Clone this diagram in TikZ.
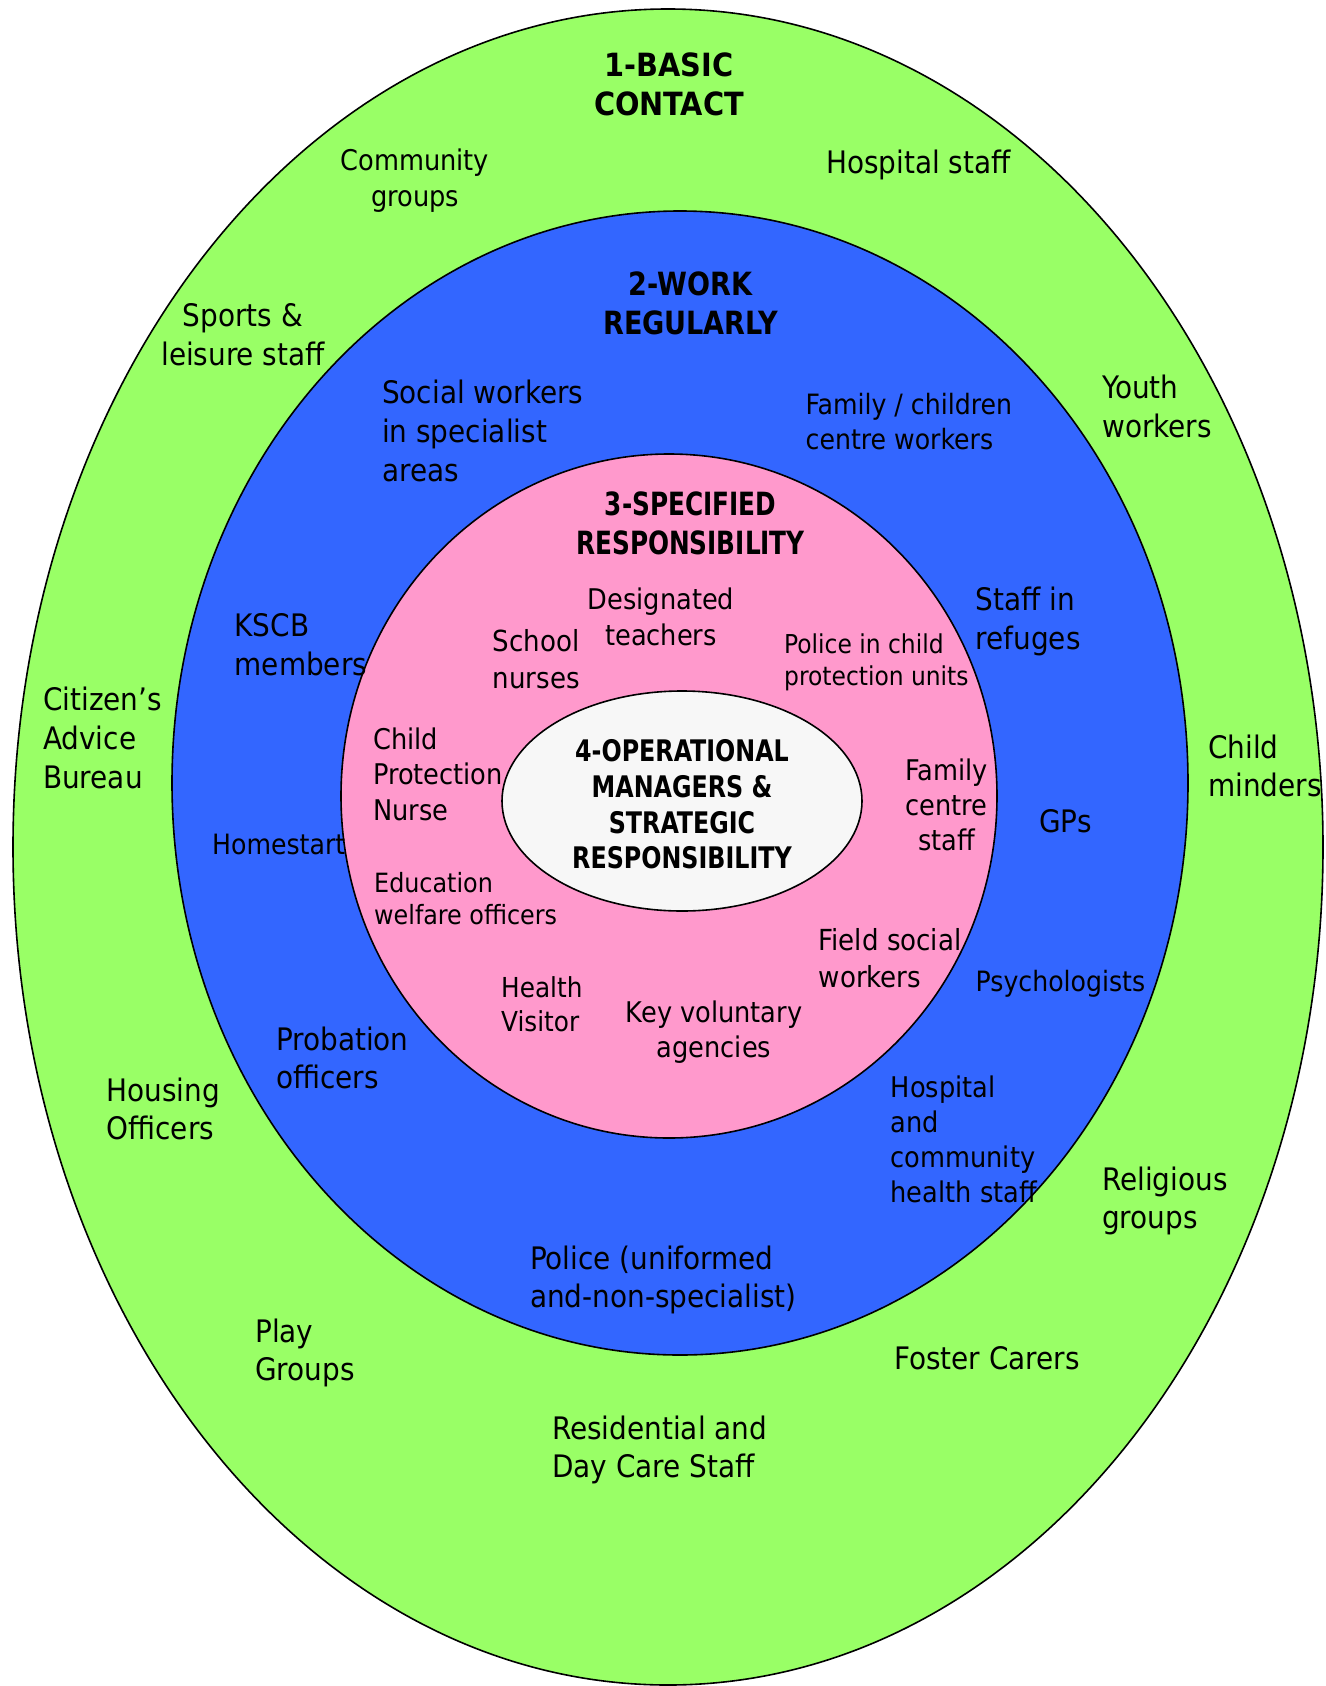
\documentclass[tikz,border=0pt]{standalone}
\usepackage{fontspec}
\usepackage{graphicx}
\setmainfont{DejaVu Sans Condensed}
\definecolor{cgreen}{HTML}{99FF66}
\definecolor{cblue}{HTML}{3366FF}
\definecolor{cpink}{HTML}{FF99CC}
\definecolor{cwhite}{HTML}{F7F7F7}
\newcommand{\fsz}[2]{\fontsize{#1}{#2}\selectfont}
\newcommand{\sqz}[2]{\scalebox{#1}[1]{\begin{tabular}{@{}c@{}}#2\end{tabular}}}
\tikzset{
  ring/.style={draw=black, line width=1.6pt},
  tl/.style={inner sep=0pt, align=left, anchor=west},
  tcn/.style={inner sep=0pt, align=center},
  fbig/.style={font=\fsz{31}{38.7}},
  fbold/.style={font=\bfseries\fsz{32}{38.7}},
}
\begin{document}
\begin{tikzpicture}[x=1pt,y=-1pt]
\useasboundingbox (0,0) rectangle (1325,1686);
% rings
\path[ring, fill=cgreen] (668,847) ellipse [x radius=655, y radius=838];
\path[ring, fill=cblue] (680,783) ellipse [x radius=508, y radius=572];
\path[ring, fill=cpink] (669,796) ellipse [x radius=328, y radius=342];
\path[ring, fill=cwhite] (682,801) ellipse [x radius=180, y radius=110];
% outer ring
\node[tcn, fbold] (basic) at (669,88.5) {\sqz{1}{1-BASIC\\CONTACT}};
\node[tcn, font=\fsz{28.5}{36.5}] (community) at (415,180.5) {Community\\groups};
\node[tl, fbig] (hospstaff) at (826,165) {Hospital staff};
\node[tcn, fbig] (sports) at (243,335) {Sports \&\\leisure staff};
\node[tl, fbig] (youth) at (1102,406.5) {Youth\\workers};
\node[tl, fbig] (citizen) at (43,738) {Citizen’s\\Advice\\Bureau};
\node[tl, fbig] (minders) at (1208,766) {Child\\minders};
\node[tl, fbig] (housing) at (106.5,1109) {Housing\\Officers};
\node[tl, fbig] (religious) at (1102,1201) {Religious\\groups};
\node[tl, fbig] (play) at (255,1353) {Play\\Groups};
\node[tl, fbig] (foster) at (894,1358) {Foster Carers};
\node[tl, fbig] (residential) at (552,1450) {Residential and\\Day Care Staff};
% blue ring
\node[tcn, fbold] (work) at (690.5,307.5) {\sqz{0.94}{2-WORK\\REGULARLY}};
\node[tl, fbig] (socialw) at (382,431) {Social workers\\in specialist\\areas};
\node[tl, font=\fsz{28}{34.4}] (familyc) at (805.5,421.6) {Family / children\\centre workers};
\node[tl, fbig] (kscb) at (234.5,645) {KSCB\\members};
\node[tl, fbig] (refuges) at (975.5,621.5) {Staff in\\refuges};
\node[tl, font=\fsz{28}{34.4}] (homestart) at (212,844) {Homestart};
\node[tl, fbig] (gps) at (1039,821) {GPs};
\node[tl, font=\fsz{28}{35}] (psych) at (975.5,984) {Psychologists};
\node[tl, fbig] (probation) at (276,1058) {Probation\\officers};
\node[tl, font=\fsz{28.5}{34.8}] (hospcomm) at (890.5,1139.5) {Hospital\\and\\community\\health staff};
\node[tl, fbig] (policeu) at (530,1280) {Police (uniformed\\and-non-specialist)};
% pink ring
\node[tcn, fbold] (specified) at (690.5,527) {\sqz{0.86}{3-SPECIFIED\\RESPONSIBILITY}};
\node[tcn, font=\fsz{28.5}{35.5}] (designated) at (661,617) {Designated\\teachers};
\node[tl, font=\fsz{29}{36.5}] (schooln) at (492.5,659) {School\\nurses};
\node[tl, font=\fsz{26}{32}] (policecp) at (784,662.5) {Police in child\\protection units};
\node[tl, font=\fsz{28.5}{35.5}] (cpnurse) at (373,774) {Child\\Protection\\Nurse};
\node[tcn, font=\fsz{28.5}{35}] (familycs) at (946.5,805) {Family\\centre\\staff};
\node[tl, font=\fsz{26.5}{32}] (education) at (374,899) {Education\\welfare officers};
\node[tl, font=\fsz{29}{36.5}] (fieldsw) at (818.5,958) {Field social\\workers};
\node[tl, font=\fsz{27.5}{34}] (healthv) at (501,1004.5) {Health\\Visitor};
\node[tcn, font=\fsz{28.5}{35.5}] (keyvol) at (714,1032) {Key voluntary\\agencies};
% centre
\node[tcn, font=\bfseries\fsz{29.7}{35.8}] (operational) at (682,808) {\sqz{0.89}{4-OPERATIONAL\\MANAGERS \&\\STRATEGIC\\RESPONSIBILITY}};
\end{tikzpicture}
\end{document}
